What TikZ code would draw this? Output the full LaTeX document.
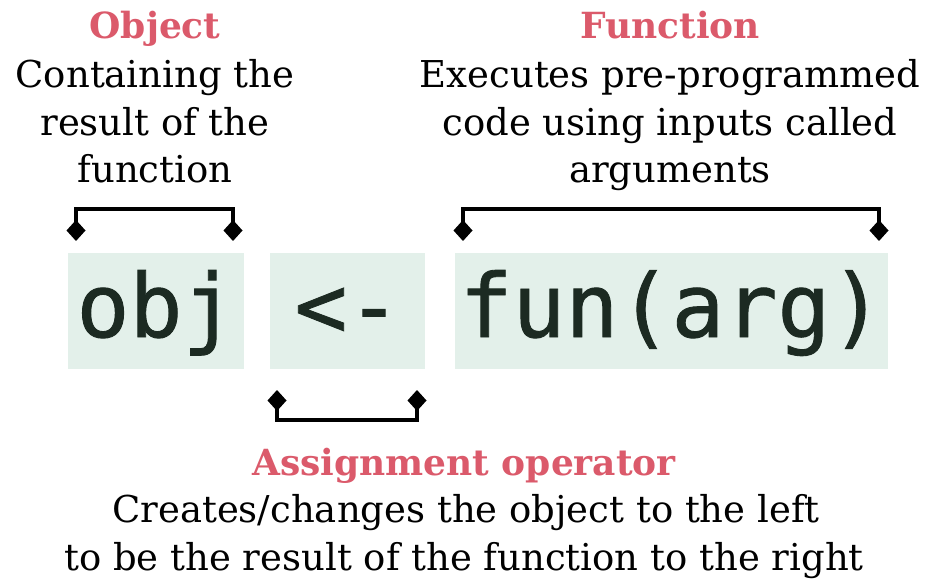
\documentclass[tikz,border=0pt]{standalone}
\usepackage{fontspec}
\setmainfont{DejaVu Serif}
\newfontfamily\codefont[RawFeature={embolden=1.0}]{DejaVu Sans Mono}
\usetikzlibrary{arrows.meta}

\definecolor{accent}{HTML}{DB5A6B}
\definecolor{codebg}{HTML}{E3F0EA}
\definecolor{codeink}{HTML}{1C2A22}

\tikzset{
  codebox/.style={fill=codebg, inner sep=0pt, text height=84pt, text depth=32pt,
    align=center, text=codeink, font=\codefont\fontsize{88}{88}\selectfont},
  heading/.style={anchor=base, text=accent, inner sep=0pt,
    font=\bfseries\fontsize{36}{40}\selectfont},
  desc/.style={anchor=base, text=black, inner sep=0pt,
    font=\fontsize{37}{40}\selectfont},
  bracket/.style={line width=3.6pt, line join=miter,
    {Diamond[length=21pt,width=19pt]}-{Diamond[length=21pt,width=19pt]}}
}

\begin{document}
\begin{tikzpicture}[x=1pt, y=-1pt]
  \useasboundingbox (0,0) rectangle (939,585);

  % code pieces
  \node[codebox, text width=176pt] (obj)    at (156,311) {obj};
  \node[codebox, text width=155pt] (assign) at (347.5,311) {<-};
  \node[codebox, text width=433pt] (fun)    at (671.5,311) {fun(arg)};

  % bracket end points
  \coordinate (objL) at (76,241);
  \coordinate (objR) at (233,241);
  \coordinate (funL) at (463,241);
  \coordinate (funR) at (879,241);
  \coordinate (asgL) at (277,390);
  \coordinate (asgR) at (417,390);

  \draw[bracket] (objL) -- ++(0,-32) -| (objR);
  \draw[bracket] (funL) -- ++(0,-32) -| (funR);
  \draw[bracket] (asgL) -- ++(0,30) -| (asgR);

  % labels: object
  \node[heading] (objT)  at (155,39)  {Object};
  \node[desc]    (objD1) at (155,88)  {Containing the};
  \node[desc]    (objD2) at (155,135.5) {result of the};
  \node[desc]    (objD3) at (155,183) {function};

  % labels: function
  \node[heading] (funT)  at (670,39)  {Function};
  \node[desc]    (funD1) at (670,88)  {Executes pre-programmed};
  \node[desc]    (funD2) at (670,135.5) {code using inputs called};
  \node[desc]    (funD3) at (670,183) {arguments};

  % labels: assignment
  \node[heading] (asgT)  at (464,475) {Assignment operator};
  \node[desc]    (asgD1) at (466,522.5) {Creates/changes the object to the left};
  \node[desc]    (asgD2) at (464,570) {to be the result of the function to the right};
\end{tikzpicture}
\end{document}
